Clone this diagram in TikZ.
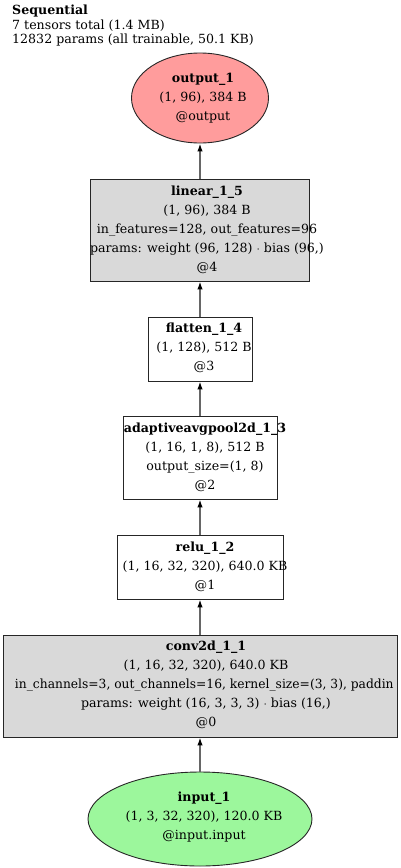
\documentclass[tikz,border=0pt]{standalone}
\usepackage{fontspec}
\setmainfont{DejaVu Serif}
\usetikzlibrary{arrows.meta,shapes.geometric}
\definecolor{outred}{HTML}{FF9C9C}
\definecolor{ingreen}{HTML}{9CF79C}
\definecolor{boxgray}{HTML}{D9D9D9}
\definecolor{edgegray}{HTML}{666666}
\tikzset{
  lbl/.style={font=\fontsize{12.6}{19}\selectfont, align=center, inner sep=0pt},
  ebox/.style={draw=black!85, line width=0.9pt, rectangle, inner sep=0pt},
  eell/.style={draw=black!85, line width=0.9pt, ellipse, inner sep=0pt},
  conn/.style={draw=edgegray, line width=1.4pt, -{Latex[length=8pt,width=5.5pt,black]}},
}
\begin{document}
\begin{tikzpicture}[x=1pt,y=-1pt]
\useasboundingbox (0,0) rectangle (400,868);
\fill[white] (0,0) rectangle (400,868);
% header
\node[anchor=north west, align=left, inner sep=0pt, font=\fontsize{12.6}{14.5}\selectfont] (hdr) at (12,5)
  {\textbf{Sequential}\\7 tensors total (1.4 MB)\\12832 params (all trainable, 50.1 KB)};
% nodes
\node[eell, fill=outred, minimum width=137, minimum height=90] (out) at (200,98) {};
\node[lbl] (outt) at (203,98) {\textbf{output\_1}\\(1, 96), 384 B\\@output};

\node[ebox, fill=boxgray, minimum width=219, minimum height=102] (lin) at (200,230) {};
\node[lbl] (lint) at (207,230) {\textbf{linear\_1\_5}\\(1, 96), 384 B\\in\_features=128, out\_features=96\\params: weight (96, 128) $\cdot$ bias (96,)\\@4};

\node[ebox, fill=white, minimum width=104, minimum height=64] (fla) at (200,349) {};
\node[lbl] (flat) at (204,348) {\textbf{flatten\_1\_4}\\(1, 128), 512 B\\@3};

\node[ebox, fill=white, minimum width=154, minimum height=83] (ada) at (200,457.5) {};
\node[lbl] (adat) at (205,457) {\textbf{adaptiveavgpool2d\_1\_3}\\(1, 16, 1, 8), 512 B\\output\_size=(1, 8)\\@2};

\node[ebox, fill=white, minimum width=166, minimum height=64] (rel) at (200,567) {};
\node[lbl] (relt) at (205,566.5) {\textbf{relu\_1\_2}\\(1, 16, 32, 320), 640.0 KB\\@1};

\node[ebox, fill=boxgray, minimum width=394, minimum height=102] (cnv) at (200,686) {};
\node[lbl] (cnvt) at (206,684.5) {\textbf{conv2d\_1\_1}\\(1, 16, 32, 320), 640.0 KB\\\makebox[382pt][l]{\scalebox{0.975}[1]{in\_channels=3, out\_channels=16, kernel\_size=(3, 3), paddin}}\\params: weight (16, 3, 3, 3) $\cdot$ bias (16,)\\@0};

\node[eell, fill=ingreen, minimum width=224, minimum height=94] (inp) at (200,819) {};
\node[lbl] (inpt) at (204,817) {\textbf{input\_1}\\(1, 3, 32, 320), 120.0 KB\\@input.input};
% connectors
\draw[conn] (inp) -- (cnv);
\draw[conn] (cnv) -- (rel);
\draw[conn] (rel) -- (ada);
\draw[conn] (ada) -- (fla);
\draw[conn] (fla) -- (lin);
\draw[conn] (lin) -- (out);
\end{tikzpicture}
\end{document}
